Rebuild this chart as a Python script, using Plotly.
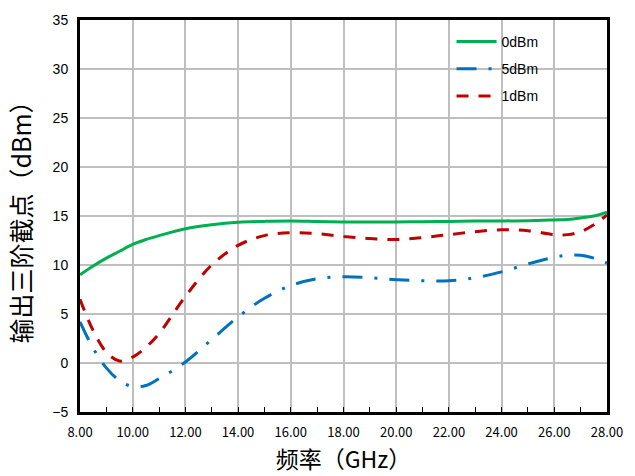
import plotly.graph_objects as go

freq = [8, 8.5, 9, 9.5, 10, 10.5, 11, 12, 13, 14, 15, 16, 17, 18, 19, 20, 21, 22, 23, 24, 25, 26, 26.5, 27, 27.5, 28]
oip3_0dbm = [9.0, 9.9, 10.7, 11.4, 12.1, 12.6, 13.0, 13.7, 14.1, 14.35, 14.45, 14.5, 14.45, 14.4, 14.4, 14.4, 14.42, 14.45, 14.5, 14.5, 14.52, 14.6, 14.65, 14.8, 15.0, 15.4]
oip3_5dbm = [4.2, 1.5, -0.5, -1.8, -2.4, -2.3, -1.6, 0.1, 2.4, 4.7, 6.6, 7.9, 8.6, 8.8, 8.7, 8.5, 8.4, 8.4, 8.7, 9.3, 10.1, 10.8, 11.0, 11.0, 10.7, 10.2]
oip3_1dbm = [6.5, 3.3, 1.1, 0.2, 0.6, 1.6, 3.0, 6.8, 10.0, 12.0, 13.0, 13.3, 13.2, 12.9, 12.7, 12.6, 12.8, 13.1, 13.4, 13.6, 13.5, 13.1, 13.1, 13.4, 14.1, 15.1]

fig = go.Figure()
fig.add_trace(go.Scatter(x=freq, y=oip3_0dbm, mode="lines", name="0dBm", legendgroup="a",
                         line=dict(color="#00b050", width=3, shape="spline", smoothing=1.0)))
fig.add_trace(go.Scatter(x=freq, y=oip3_5dbm, mode="lines", name="5dBm", legendgroup="b",
                         line=dict(color="#0070c0", width=3, shape="spline", smoothing=1.0,
                                   dash="20px,12px,3px,12px")))
fig.add_trace(go.Scatter(x=freq, y=oip3_1dbm, mode="lines", name="1dBm", legendgroup="c",
                         line=dict(color="#c00000", width=3, shape="spline", smoothing=1.0,
                                   dash="12px,10px")))

fig.update_layout(
    width=635, height=476,
    margin=dict(l=80, r=23, t=13, b=64),
    paper_bgcolor="white", plot_bgcolor="white",
    font=dict(family="Noto Sans CJK SC, Liberation Sans, sans-serif", color="black"),
    showlegend=True,
    legend=dict(x=0.705, y=0.985, xanchor="left", yanchor="top",
                bgcolor="rgba(0,0,0,0)", font=dict(size=14, family="Liberation Sans"),
                itemwidth=40, tracegroupgap=6),
)
fig.update_xaxes(
    range=[8, 28], tick0=8, dtick=2, tickformat=".2f",
    showgrid=True, gridcolor="#bfbfbf", gridwidth=1.5,
    showline=True, linecolor="black", linewidth=3, mirror=True,
    ticks="inside", ticklen=5, tickcolor="black",
    minor=dict(ticks="inside", ticklen=5, dtick=1, tickcolor="black", showgrid=False),
    tickfont=dict(size=13, family="Noto Sans CJK SC"),
    ticklabelstandoff=6,
    title=dict(text="频率（GHz）", font=dict(size=23), standoff=6),
    zeroline=False,
)
fig.update_yaxes(
    range=[-5, 35], dtick=5,
    showgrid=True, gridcolor="#bfbfbf", gridwidth=1.5,
    showline=True, linecolor="black", linewidth=3, mirror=True,
    ticks="", tickfont=dict(size=14, family="Liberation Sans"),
    ticklabelstandoff=6,
    title=dict(text="输出三阶截点（dBm）", font=dict(size=25), standoff=14),
    zeroline=False,
)

fig.write_html("out.html")
